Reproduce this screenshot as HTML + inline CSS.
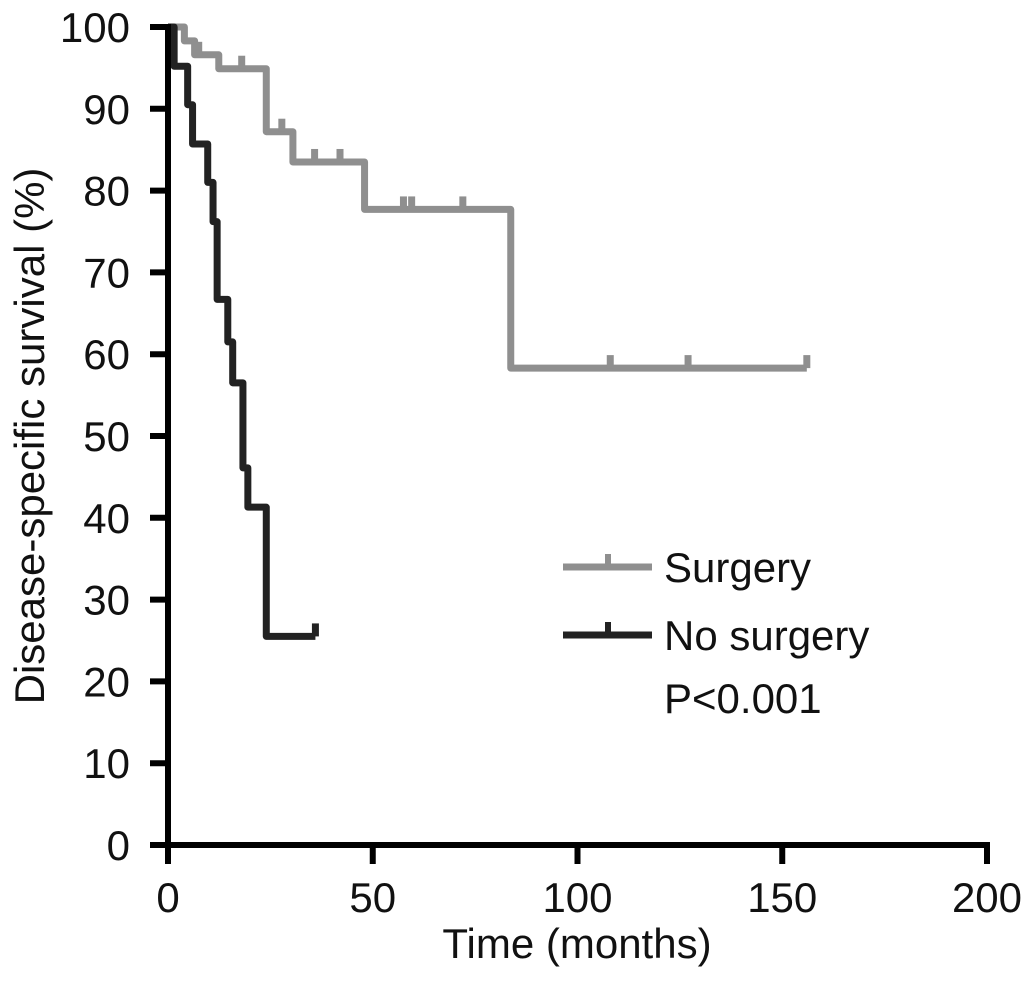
<!DOCTYPE html>
<html><head><meta charset="utf-8"><style>
body{margin:0;background:#fff;}
svg text{font-family:"Liberation Sans",Arial,sans-serif;fill:#111;}
</style></head><body>
<svg id="chart" width="1031" height="990" viewBox="0 0 1031 990" xmlns="http://www.w3.org/2000/svg">
<g id="plot"></g>
</svg>
<script>
const xTicks=[0,50,100,150,200];
const yTicks=[0,10,20,30,40,50,60,70,80,90,100];
const surgTimes=[0,4,6.5,12.4,24,30.5,48,83.7,156];
const surgVals=[100,98.3,96.6,94.9,87.2,83.5,77.7,58.3,58.3];
const surgCensorT=[7.5,18,27.8,35.8,42,57.5,59.5,72,108,127,156];
const surgCensorV=[96.6,94.9,87.2,83.5,83.5,77.7,77.7,77.7,58.3,58.3,58.3];
const noTimes=[0,1.5,4.8,6,9.7,11,12,14.6,15.8,18.3,19.5,24,36];
const noVals=[100,95.2,90.5,85.7,81,76.2,66.7,61.5,56.5,46.1,41.3,25.5,25.5];
const noCensorT=[36];
const noCensorV=[25.5];

const X=t=>168+t*4.095;
const Y=v=>845-v*8.18;
const NS='http://www.w3.org/2000/svg';
const g=document.getElementById('plot');
function mk(tag,attrs){const e=document.createElementNS(NS,tag);for(const k in attrs)e.setAttribute(k,attrs[k]);g.appendChild(e);return e;}

function curve(times,vals,cT,cV,color,w,name){
  let d='M'+X(times[0])+','+Y(vals[0]);
  for(let i=1;i<times.length;i++){d+=' H'+X(times[i])+' V'+Y(vals[i]);}
  const p=mk('path',{d:d,fill:'none',stroke:color,'stroke-width':w,'stroke-linejoin':'round'});
  
  
  for(let i=0;i<cT.length;i++){
    const l=mk('line',{x1:X(cT[i]),x2:X(cT[i]),y1:Y(cV[i]),y2:Y(cV[i])-13,stroke:color,'stroke-width':w});
    
    
  }
}
curve(surgTimes,surgVals,surgCensorT,surgCensorV,'#8f8f8f',7,'surgery');
curve(noTimes,noVals,noCensorT,noCensorV,'#222',7,'no-surgery');

// axes
const ya=mk('line',{x1:168,x2:168,y1:Y(100)-3,y2:845,stroke:'#000','stroke-width':6});


const xa=mk('line',{x1:150,x2:X(200)+3,y1:845,y2:845,stroke:'#000','stroke-width':6});


yTicks.forEach(v=>{
  const t=mk('line',{x1:150,x2:168,y1:Y(v),y2:Y(v),stroke:'#000','stroke-width':6});
  
  
  const tx=mk('text',{x:130,y:Y(v)+15,'text-anchor':'end','font-size':42});
  tx.textContent=v;
  
  
});
xTicks.forEach(v=>{
  const t=mk('line',{x1:X(v),x2:X(v),y1:845,y2:864,stroke:'#000','stroke-width':6});
  
  
  const tx=mk('text',{x:X(v),y:912,'text-anchor':'middle','font-size':42});
  tx.textContent=v;
  
  
});
const xt=mk('text',{x:577,y:958,'text-anchor':'middle','font-size':42});
xt.textContent='Time (months)';


const yt=mk('text',{x:0,y:0,'text-anchor':'middle','font-size':42,transform:'translate(44,436) rotate(-90)'});
yt.textContent='Disease-specific survival (%)';



// legend
function legend(y,color,label,name){
  const l=mk('line',{x1:563,x2:652,y1:y,y2:y,stroke:color,'stroke-width':7});
  
  
  const c=mk('line',{x1:608,x2:608,y1:y,y2:y-13,stroke:color,'stroke-width':6});
  
  
  const t=mk('text',{x:664,y:y+15,'font-size':42});
  t.textContent=label;
  
  
}
legend(567,'#8f8f8f','Surgery','surgery');
legend(635,'#222','No surgery','no-surgery');
const pv=mk('text',{x:664,y:713,'font-size':42});
pv.textContent='P<0.001';


</script>
</body></html>
